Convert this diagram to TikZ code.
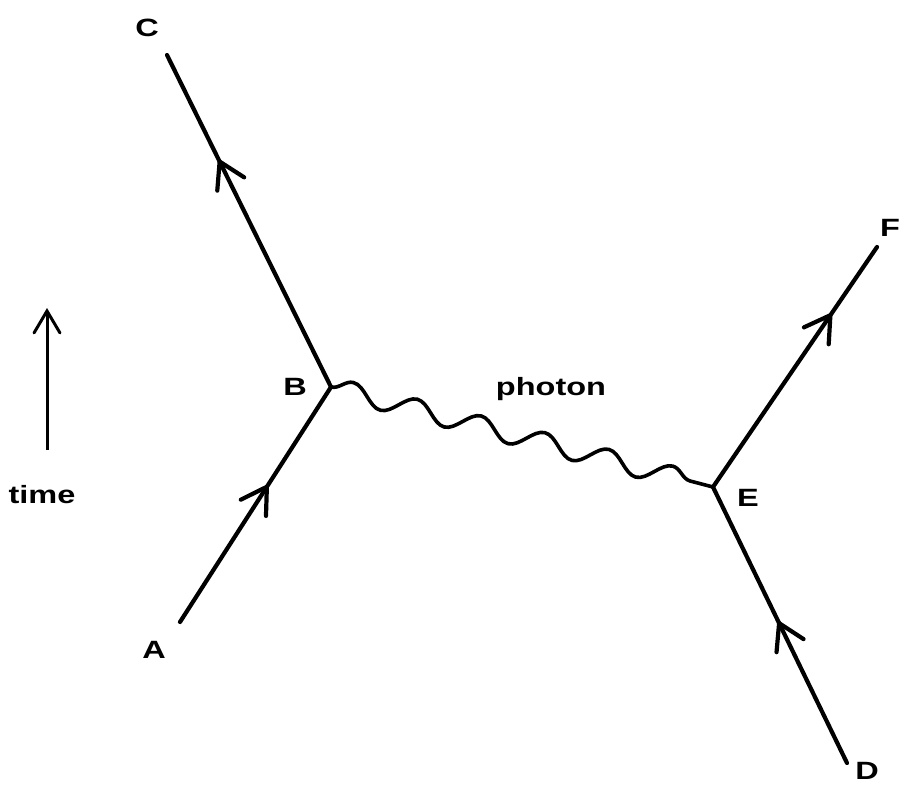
\documentclass[tikz,border=0pt]{standalone}
\usepackage{fontspec}
\newfontfamily\labfont[FakeStretch=1.3]{Liberation Sans}
\usetikzlibrary{arrows.meta,decorations.pathmorphing,decorations.markings}
\tikzset{
  fermion/.style={line width=4.2pt, line cap=round, postaction={decorate},
    decoration={markings, mark=at position #1 with {\arrow{Straight Barb[length=25pt,width=30pt,line cap=round]}}}},
  photonline/.style={line width=3.6pt, decorate,
    decoration={snake, segment length=66pt, amplitude=10pt, pre length=0pt, post length=0pt}},
  lab/.style={font=\labfont\bfseries\fontsize{25}{29}\selectfont, inner sep=0pt, text=black}
}
\begin{document}
\begin{tikzpicture}[x=1pt,y=-1pt]
\useasboundingbox (0,0) rectangle (900,787);
\fill[white] (0,0) rectangle (900,787);
% vertices and ends
\coordinate (A) at (180,622);
\coordinate (B) at (331,387);
\coordinate (C) at (167,55);
\coordinate (E) at (713,487);
\coordinate (F) at (877,247);
\coordinate (D) at (847,763);
\coordinate (t0) at (47,450);
\coordinate (t1) at (47,308);
% labels
\node[lab] (lA) at (154,650) {A};
\node[lab] (lB) at (295,387) {B};
\node[lab] (lC) at (147,28) {C};
\node[lab] (lD) at (867,771) {D};
\node[lab] (lE) at (748,498) {E};
\node[lab] (lF) at (890,228) {F};
\node[lab] (lphoton) at (551,389) {photon};
\node[lab] (ltime) at (42,495) {time};
% fermion lines
\draw[fermion=0.59] (A) -- (B);
\draw[fermion=0.69] (B) -- (C);
\draw[fermion=0.52] (D) -- (E);
\draw[fermion=0.73] (E) -- (F);
% photon
\draw[photonline] (B) -- (E);
% time arrow
\draw[line width=3pt, -{Straight Barb[length=22pt,width=26pt,line cap=round]}] (t0) -- (t1);
\end{tikzpicture}
\end{document}
